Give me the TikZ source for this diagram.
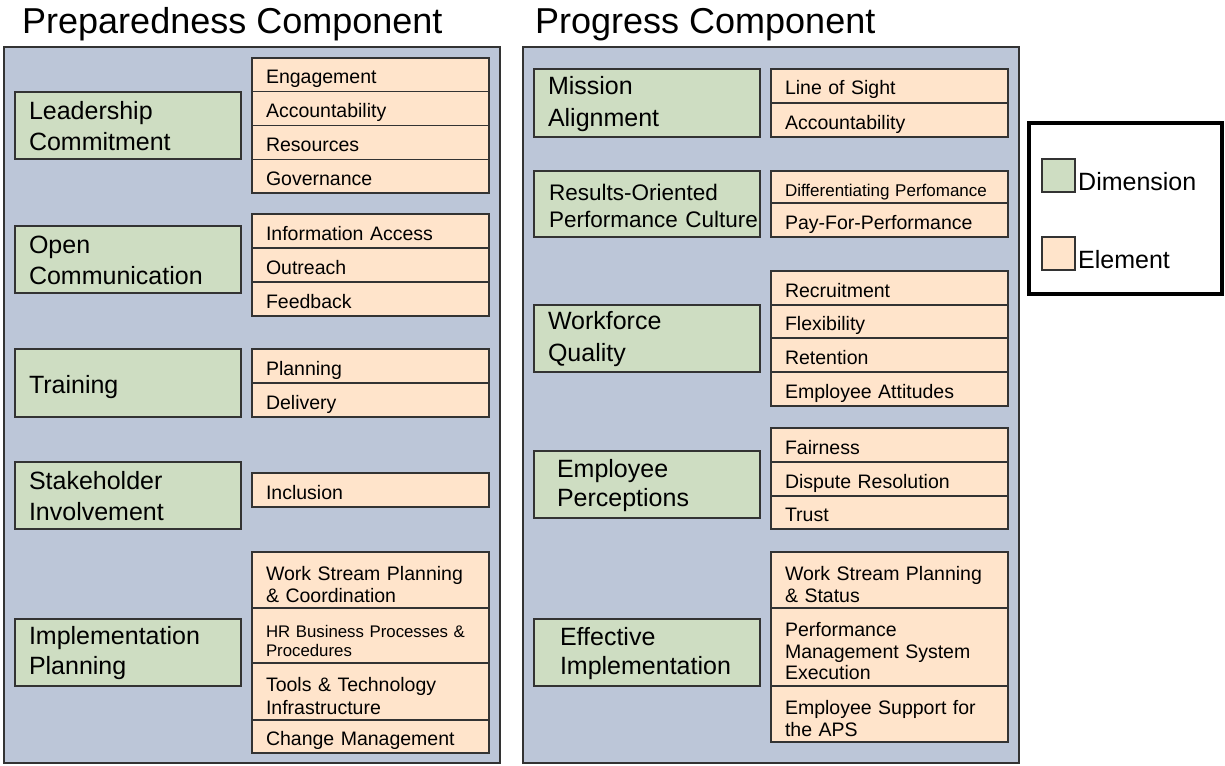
\documentclass[tikz,border=0pt]{standalone}
\usepackage{fontspec}
\setmainfont{Liberation Sans}
\definecolor{panelblue}{HTML}{BCC6D8}
\definecolor{dimgreen}{HTML}{CEDDC2}
\definecolor{elempeach}{HTML}{FFE4CB}
\definecolor{edgegray}{HTML}{333333}
\tikzset{
  panel/.style={draw=edgegray, fill=panelblue, line width=1.3pt},
  dimbox/.style={draw=edgegray, fill=dimgreen, line width=1.3pt, minimum width=226pt,
    inner xsep=14pt, inner ysep=0pt, text width=198pt, align=left,
    font=\fontsize{25}{31}\selectfont, execute at begin node={\rule{0pt}{20pt}}},
  elembox/.style={draw=edgegray, fill=elempeach, line width=1.3pt, minimum width=237pt,
    inner xsep=14pt, inner ysep=0pt, text width=209pt, align=left,
    font=\fontsize{19.5}{22.5}\selectfont, execute at begin node={\rule[-5pt]{0pt}{28pt}}},
  titletext/.style={anchor=base west, inner sep=0pt, font=\fontsize{36}{40}\selectfont},
  legtext/.style={anchor=base west, inner sep=0pt, font=\fontsize{25}{30}\selectfont},
  legsq/.style={draw=edgegray, line width=1.3pt, minimum width=33pt, minimum height=33pt, inner sep=0pt}
}
\begin{document}
\begin{tikzpicture}[x=1pt, y=-1pt]
\useasboundingbox (0,0) rectangle (1225,765);
% titles
\node[titletext] (t1) at (22,34) {Preparedness Component};
\node[titletext] (t2) at (535,34) {Progress Component};
% panels
\node[panel, minimum width=496pt, minimum height=716pt, inner sep=0pt] (p1) at (252,405) {};
\node[panel, minimum width=496pt, minimum height=716pt, inner sep=0pt] (p2) at (771,405) {};
% ---------- left dimensions
\node[dimbox, minimum height=67pt] (lc) at (128,125.5) {Leadership\\Commitment};
\node[dimbox, minimum height=67pt] (oc) at (128,259.5) {Open\\Communication};
\node[dimbox, minimum height=68pt] (tr) at (128,383) {\rule{0pt}{26pt}Training};
\node[dimbox, minimum height=67pt] (si) at (128,495.5) {Stakeholder\\Involvement};
\node[dimbox, minimum height=67pt, font=\fontsize{25}{30}\selectfont] (ip) at (128,652.5) {Implementation\\Planning};
% ---------- left elements
\node[elembox, minimum height=33.75pt] (l1a) at (370.5,74.875) {Engagement};
\node[elembox, minimum height=33.75pt] (l1b) at (370.5,108.625) {Accountability};
\node[elembox, minimum height=33.75pt] (l1c) at (370.5,142.375) {Resources};
\node[elembox, minimum height=33.75pt] (l1d) at (370.5,176.125) {Governance};
\node[elembox, minimum height=34pt] (l2a) at (370.5,231) {Information Access};
\node[elembox, minimum height=34pt] (l2b) at (370.5,265) {Outreach};
\node[elembox, minimum height=34pt] (l2c) at (370.5,299) {Feedback};
\node[elembox, minimum height=34pt] (l3a) at (370.5,366) {Planning};
\node[elembox, minimum height=34pt] (l3b) at (370.5,400) {Delivery};
\node[elembox, minimum height=34pt] (l4a) at (370.5,490) {Inclusion};
\node[elembox, minimum height=56pt] (l5a) at (370.5,580) {Work Stream Planning\\\&~Coordination};
\node[elembox, minimum height=55pt, font=\fontsize{16.8}{19}\selectfont] (l5b) at (370.5,635.5) {HR Business Processes~\&\\Procedures};
\node[elembox, minimum height=57pt] (l5c) at (370.5,691.5) {Tools \& Technology\\Infrastructure};
\node[elembox, minimum height=33pt] (l5d) at (370.5,736.5) {Change Management};
% ---------- right dimensions
\node[dimbox, minimum height=68pt, font=\fontsize{25}{32}\selectfont] (ma) at (647,103) {Mission\\Alignment};
\node[dimbox, minimum height=66pt, font=\fontsize{22.5}{27}\selectfont] (ro) at (647,204) {\hspace*{1pt}Results-Oriented\\\hspace*{1pt}\mbox{Performance Culture}};
\node[dimbox, minimum height=67pt, font=\fontsize{25}{32}\selectfont] (wq) at (647,338.5) {Workforce\\Quality};
\node[dimbox, minimum height=67pt, font=\fontsize{25}{29}\selectfont] (ep) at (647,484.5) {\hspace*{9pt}Employee\\\hspace*{9pt}Perceptions};
\node[dimbox, minimum height=67pt, font=\fontsize{25}{29}\selectfont] (ei) at (647,652.5) {\hspace*{12pt}Effective\\\hspace*{12pt}Implementation};
% ---------- right elements
\node[elembox, minimum height=34pt] (r1a) at (889.5,86) {Line of Sight};
\node[elembox, minimum height=34pt] (r1b) at (889.5,120) {Accountability};
\node[elembox, minimum height=32pt, font=\fontsize{17}{20}\selectfont] (r2a) at (889.5,187) {Differentiating Perfomance};
\node[elembox, minimum height=34pt] (r2b) at (889.5,220) {Pay-For-Performance};
\node[elembox, minimum height=34pt] (r3a) at (889.5,288) {Recruitment};
\node[elembox, minimum height=33pt] (r3b) at (889.5,321.5) {Flexibility};
\node[elembox, minimum height=34pt] (r3c) at (889.5,355) {Retention};
\node[elembox, minimum height=34pt] (r3d) at (889.5,389) {Employee Attitudes};
\node[elembox, minimum height=34pt] (r4a) at (889.5,445) {Fairness};
\node[elembox, minimum height=34pt] (r4b) at (889.5,479) {Dispute Resolution};
\node[elembox, minimum height=33pt] (r4c) at (889.5,512.5) {Trust};
\node[elembox, minimum height=56pt] (r5a) at (889.5,580) {Work Stream Planning\\\&~Status};
\node[elembox, minimum height=78pt, font=\fontsize{19.5}{21.5}\selectfont] (r5b) at (889.5,647) {Performance\\Management System\\Execution};
\node[elembox, minimum height=56pt] (r5c) at (889.5,714) {Employee Support for\\the APS};
% ---------- legend
\node[draw=black, line width=3.5pt, fill=white, minimum width=193pt, minimum height=171pt, inner sep=0pt] (leg) at (1125.5,208.5) {};
\node[legsq, fill=dimgreen] (lgd) at (1058.5,175.5) {};
\node[legsq, fill=elempeach] (lge) at (1058.5,253.5) {};
\node[legtext] (lgdt) at (1078,190) {Dimension};
\node[legtext] (lget) at (1078,268) {Element};
\end{tikzpicture}
\end{document}
